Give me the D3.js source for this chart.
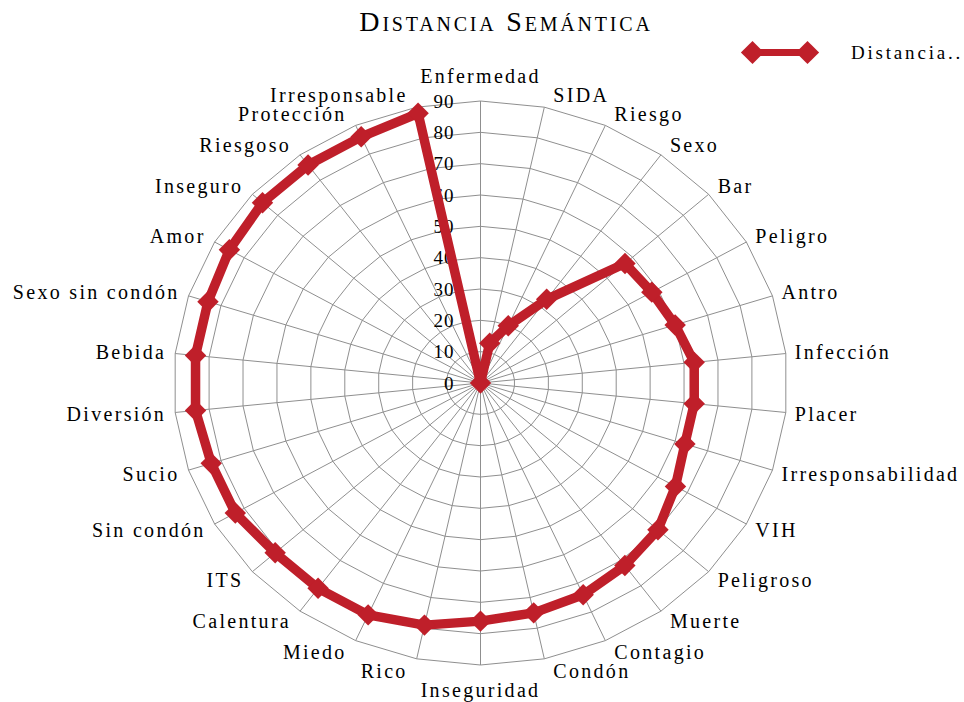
<!DOCTYPE html>
<html>
<head>
<meta charset="utf-8">
<script src="https://cdn.jsdelivr.net/npm/d3@7"></script>
<style>
  html, body { margin: 0; padding: 0; background: #fff; }
  svg { display: block; }
  text { font-family: "Liberation Serif", "Times New Roman", serif; fill: #000; }
</style>
</head>
<body>
<svg id="chart" width="964" height="702"></svg>
<script>
const categories = ["Enfermedad","SIDA","Riesgo","Sexo","Bar","Peligro","Antro","Infección","Placer","Irresponsabilidad","VIH","Peligroso","Muerte","Contagio","Condón","Inseguridad","Rico","Miedo","Calentura","ITS","Sin condón","Sucio","Diversión","Bebida","Sexo sin condón","Amor","Inseguro","Riesgoso","Protección","Irresponsable"];
const values = [0,13,20,33,57,58,60,63,63,63,66,70,72,74,75,76,79,81,81,81,83,83,84,84,84,85,86,86,86,88];
const tickValues = [0,10,20,30,40,50,60,70,80,90];
const seriesName = "Distancia..";
const titleText = "Distancia Semántica";

const svg = d3.select("#chart");
const cx = 480.5, cy = 383;
const rX = d3.scaleLinear().domain([0, 90]).range([0, 307]);
const rY = d3.scaleLinear().domain([0, 90]).range([0, 282]);
const angle = d3.scaleLinear().domain([0, categories.length]).range([0, 2 * Math.PI]);

const px = (i, v) => cx + rX(v) * Math.sin(angle(i));
const py = (i, v) => cy - rY(v) * Math.cos(angle(i));

const red = "#bf1f2a";
const gridColor = "#8f8f8f";
const fontFam = '"Liberation Serif", "Times New Roman", serif';

// grid rings
const ringLine = d3.line().x(d => d[0]).y(d => d[1]).curve(d3.curveLinearClosed);
const g = svg.append("g");
tickValues.filter(t => t > 0).forEach(t => {
  g.append("path")
    .attr("d", ringLine(categories.map((c, i) => [px(i, t), py(i, t)])))
    .attr("fill", "none")
    .attr("stroke", gridColor)
    .attr("stroke-width", 1);
});
// spokes
categories.forEach((c, i) => {
  g.append("line")
    .attr("x1", cx).attr("y1", cy)
    .attr("x2", px(i, 90)).attr("y2", py(i, 90))
    .attr("stroke", gridColor)
    .attr("stroke-width", 1);
});

// tick labels
svg.append("g").selectAll("text")
  .data(tickValues)
  .join("text")
  .attr("x", cx - 26)
  .attr("y", d => cy - rY(d))
  .attr("dy", "0.35em")
  .attr("text-anchor", "end")
  .attr("font-family", fontFam)
  .style("font-size", "19px")
  .style("letter-spacing", "1px")
  .text(d => d);

// series line
const seriesLine = d3.line()
  .x((d, i) => px(i, d))
  .y((d, i) => py(i, d))
  .curve(d3.curveLinearClosed);
svg.append("path")
  .attr("d", seriesLine(values))
  .attr("fill", "none")
  .attr("stroke", red)
  .attr("stroke-width", 9.5)
  .attr("stroke-linejoin", "round");

// markers
const diamond = d3.symbol().type(d3.symbolSquare).size(230);
svg.append("g").selectAll("path")
  .data(values)
  .join("path")
  .attr("d", diamond)
  .attr("transform", (d, i) => `translate(${px(i, d)},${py(i, d)}) rotate(45)`)
  .attr("fill", red);

// category labels
svg.append("g").selectAll("text")
  .data(categories)
  .join("text")
  .each(function(c, i) {
    const a = angle(i);
    const s = Math.sin(a), co = Math.cos(a);
    const x0 = px(i, 90), y0 = py(i, 90);
    let anchor, x, y;
    if (Math.abs(s) < 0.01) {
      anchor = "middle";
      x = x0;
      y = y0 - 25 * Math.sign(co);
    } else {
      anchor = s > 0 ? "start" : "end";
      x = x0 + (s > 0 ? 9 : -9);
      y = y0 - 12 * co;
    }
    d3.select(this)
      .attr("x", x).attr("y", y)
      .attr("dy", "0.35em")
      .attr("text-anchor", anchor);
  })
  .attr("font-family", fontFam)
  .style("font-size", "20px")
  .style("letter-spacing", "2.3px")
  .text(d => d);

// title
svg.append("text")
  .attr("x", 506)
  .attr("y", 31)
  .attr("text-anchor", "middle")
  .attr("font-family", fontFam)
  .style("font-size", "28px")
  .style("font-variant", "small-caps")
  .style("letter-spacing", "2.8px")
  .text(titleText);

// legend
const lg = svg.append("g");
lg.append("line")
  .attr("x1", 745).attr("y1", 52.5).attr("x2", 815).attr("y2", 52.5)
  .attr("stroke", red).attr("stroke-width", 7);
[752.5, 807.5].forEach(x => {
  lg.append("path")
    .attr("d", d3.symbol().type(d3.symbolSquare).size(270)())
    .attr("transform", `translate(${x},52.5) rotate(45)`)
    .attr("fill", red);
});
lg.append("text")
  .attr("x", 851).attr("y", 59)
  .attr("font-family", fontFam)
  .style("font-size", "19px")
  .style("letter-spacing", "2.8px")
  .text(seriesName);
</script>
</body>
</html>
